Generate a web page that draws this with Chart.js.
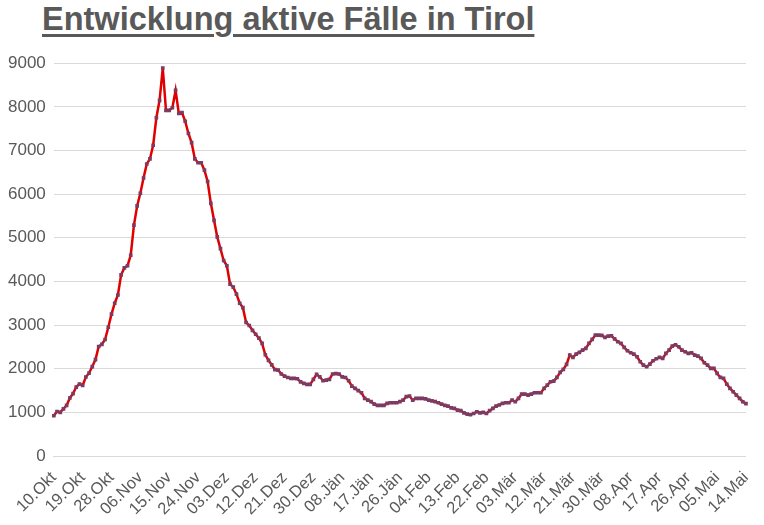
<!DOCTYPE html>
<html><head><meta charset="utf-8">
<script src="https://cdn.jsdelivr.net/npm/chart.js@4"></script>
<style>
body{margin:0;background:#fff;width:764px;height:525px;overflow:hidden;font-family:"Liberation Sans",Arial,sans-serif}
h1{margin:0;position:absolute;left:42px;top:1px;font-size:32.5px;font-weight:bold;color:#595959;text-decoration:underline;text-decoration-thickness:3px;text-underline-offset:4px}
#wrap{position:absolute;left:0;top:45px;width:764px;height:480px}
</style></head><body>
<h1>Entwicklung aktive Fälle in Tirol</h1>
<div id="wrap"><canvas id="c"></canvas></div>
<script>
const startDay = 10, startMonth = 0; // 10.Okt
const monthNames = ["Okt","Nov","Dez","Jän","Feb","Mär","Apr","Mai"];
const monthDays = [31,30,31,31,28,31,30,31];
const tickLabels = ["10.Okt","19.Okt","28.Okt","06.Nov","15.Nov","24.Nov","03.Dez","12.Dez","21.Dez","30.Dez","08.Jän","17.Jän","26.Jän","04.Feb","13.Feb","22.Feb","03.Mär","12.Mär","21.Mär","30.Mär","08.Apr","17.Apr","26.Apr","05.Mai","14.Mai"];
const activeCases = [
923,1020,1000,1080,1160,1330,1430,1580,1650,1620,1810,1900,2050,2210,2510,2560,2670,2950,3250,3500,
3690,4150,4310,4360,4600,5290,5730,6020,6370,6690,6810,7120,7750,8150,8890,7920,7920,7980,8380,7850,
7870,7670,7390,7180,6810,6720,6720,6550,6290,5790,5400,5020,4750,4480,4360,3940,3870,3710,3500,3400,
3060,2990,2880,2790,2700,2580,2320,2190,2090,1980,1970,1880,
1830,1800,1780,1780,1770,1700,1665,1640,1640,1755,1870,1815,1725,1740,1755,1880,1890,1880,1815,1800,
1725,1600,1550,1500,1450,1320,1280,1245,1190,1160,1160,1160,1205,1220,1220,1220,1245,1280,1360,1375,
1280,1320,1320,1320,1310,1280,1265,1245,1220,1190,1160,1145,1105,1090,1050,1040,990,960,945,975,
1015,990,1000,975,1040,1090,1145,1170,1205,1220,1220,1280,
1244,1320,1420,1420,1397,1420,1450,1450,1450,1550,1626,1702,1717,1801,1916,1984,2099,2313,2259,2335,
2373,2427,2465,2580,2671,2770,2770,2763,2717,2747,2755,2686,2618,2580,2488,2412,2366,2335,2274,2160,
2083,2045,2106,2183,2228,2259,2236,2351,2427,2518,2549,2503,2427,2389,2351,2366,2312,2289,2236,2137,
2083,2007,2007,1893,1801,1778,1649,1549,1473,1397,1320,1244,1200
];
const categories = [];
{let m=startMonth,d=startDay;
 while(categories.length<activeCases.length){
   categories.push(String(d).padStart(2,"0")+"."+monthNames[m]);
   d++; if(d>monthDays[m]){d=1;m++;}
 }}
const grey="#595959";
new Chart(document.getElementById("c"),{
 type:"line",
 data:{labels:categories,datasets:[{data:activeCases,borderColor:"#E00000",borderWidth:2.5,tension:0,
   pointStyle:"rect",pointRadius:2.6,pointBackgroundColor:"#7B3B63",pointBorderColor:"#7B3B63",pointBorderWidth:0}]},
 options:{animation:false,responsive:true,maintainAspectRatio:false,
  layout:{padding:{left:0,right:3,top:7,bottom:2}},
  plugins:{legend:{display:false},tooltip:{enabled:false}},
  scales:{
   x:{offset:false,grid:{display:false},border:{color:"#d9d9d9"},
      ticks:{autoSkip:false,maxRotation:45,minRotation:45,color:grey,font:{size:16.5,family:"Liberation Sans"},padding:4,
        callback:function(v,i){const l=categories[i];return tickLabels.includes(l)?l:null;}}},
   y:{min:0,max:9000,grid:{color:"#d9d9d9",drawTicks:false},border:{display:false},
      ticks:{stepSize:1000,color:grey,padding:8,font:{size:17,family:"Liberation Sans"},callback:v=>String(v)}}
  }}
});
</script></body></html>
